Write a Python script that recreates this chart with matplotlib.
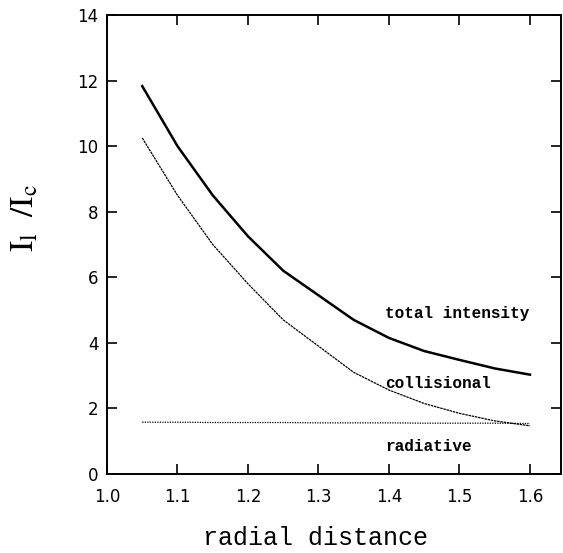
import numpy as np
import matplotlib
matplotlib.use('Agg')
import matplotlib.pyplot as plt

# data
r = [1.05, 1.10, 1.15, 1.20, 1.25, 1.30, 1.35, 1.40, 1.45, 1.50, 1.55, 1.60]
total = [11.83, 10.0, 8.5, 7.25, 6.2, 5.45, 4.7, 4.15, 3.75, 3.48, 3.22, 3.03]
collisional = [10.25, 8.5, 7.0, 5.8, 4.7, 3.9, 3.1, 2.56, 2.15, 1.85, 1.62, 1.47]
radiative = [1.58, 1.58, 1.57, 1.57, 1.57, 1.56, 1.56, 1.56, 1.55, 1.55, 1.55, 1.54]

plt.rcParams['mathtext.fontset'] = 'stix'

fig = plt.figure(figsize=(5.63, 5.53), dpi=100)
ax = fig.add_axes([107/563, 1-474/553, (561-107)/563, (474-15)/553])

ax.plot(r, total, color='black', lw=1.8)
ax.plot(r, collisional, color='black', lw=0.9, ls=(0, (2, 0.6)))
ax.plot(r, radiative, color='black', lw=0.9, ls=(0, (1, 1)))

ax.set_xlim(1.0, 1.644)
ax.set_ylim(0, 14)
ax.set_xticks([1.0, 1.1, 1.2, 1.3, 1.4, 1.5, 1.6])
ax.set_xticklabels(['1.0', '1.1', '1.2', '1.3', '1.4', '1.5', '1.6'])
ax.set_yticks(range(0, 15, 2))
ax.tick_params(direction='in', length=7, width=1.2, top=True, right=True,
               labelsize=12)
ax.tick_params(axis='x', pad=10)
ax.tick_params(axis='y', pad=6)
for lab in ax.get_xticklabels() + ax.get_yticklabels():
    lab.set_fontfamily('DejaVu Sans')
for s in ax.spines.values():
    s.set_linewidth(1.4)

mono = dict(family='Liberation Mono', fontsize=11.5, fontweight='bold')
ax.text(1.395, 4.9, 'total intensity', ha='left', va='center', **mono)
ax.text(1.395, 2.75, 'collisional', ha='left', va='center', **mono)
ax.text(1.395, 0.85, 'radiative', ha='left', va='center', **mono)

fig.text(203/563, 1-538/553, 'radial distance', family='Liberation Mono',
         fontsize=18, ha='left', va='center')
fig.text(24/563, 1-218/553, r'$\mathrm{I_l\ \ /I_c}$', fontsize=24,
         rotation=90, ha='center', va='center')

fig.savefig('out.png', dpi=100)
